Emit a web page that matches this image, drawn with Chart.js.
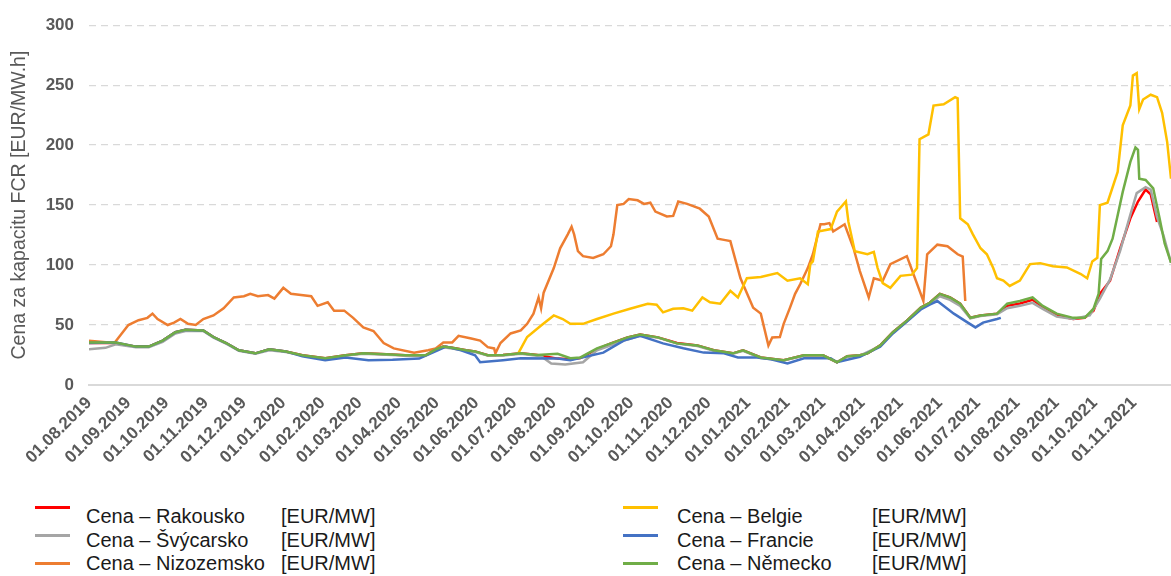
<!DOCTYPE html>
<html>
<head>
<meta charset="utf-8">
<script src="https://cdn.jsdelivr.net/npm/chart.js"></script>
<style>
  body { margin: 0; background: #fff; }
  #wrap { position: relative; width: 1171px; height: 576px; font-family: "Liberation Sans", Arial, sans-serif; }
  #myChart { display: block; }
  .txt { position: absolute; font-size: 20px; line-height: 23px; color: #1a1a1a; white-space: nowrap; }
  .ln { position: absolute; height: 3px; }
</style>
</head>
<body>
<div id="wrap">
  <canvas id="myChart" width="1171" height="474"></canvas>
  <div id="legend"></div>
</div>
<script>
// days counted from 01.08.2019
const tickLabels = ["01.08.2019", "01.09.2019", "01.10.2019", "01.11.2019", "01.12.2019", "01.01.2020",
  "01.02.2020", "01.03.2020", "01.04.2020", "01.05.2020", "01.06.2020", "01.07.2020", "01.08.2020",
  "01.09.2020", "01.10.2020", "01.11.2020", "01.12.2020", "01.01.2021", "01.02.2021", "01.03.2021",
  "01.04.2021", "01.05.2021", "01.06.2021", "01.07.2021", "01.08.2021", "01.09.2021", "01.10.2021",
  "01.11.2021"]

const rakDays = [0,21,37,47,58,68,76,90,98,108,118,131,142,155,168,186,202,216,234,249,265,273,279,286,297,304,314,326,340,353,
  369,379,387,400,411,424,434,448,463,479,492,507,515,529,547,563,578,589,597,607,613,623,633,644,655,662,670,678,686,694,
  702,715,723,733,743,751,762,775,784,791,796,804,812,820,826,832,836,839,841]
const rakVals = [35,35,32,32,37,44,46,45.5,40,35,29,26.4,29.7,28,24.8,22.3,24.8,26.4,25.6,24.8,24.8,29.7,32,31,29,28,24.8,25,26.4,25,
  22,21.5,22.5,30,34.7,39.7,42,39.7,35,33,29,26.4,29,23,20.7,24.8,24.8,19,24,24.8,26.4,33,44,53.7,64.5,68.6,76,73,67.8,56,
  58,59.5,66,68,71,65,58,55,56,62,76,87,114,139,153,163,159,145,136]

const svyDays = [0,13,21,37,47,58,68,76,90,98,108,118,131,142,155,168,186,202,216,234,249,265,273,279,286,297,304,314,326,340,
  356,364,375,389,400,411,424,434,448,463,479,492,507,515,529,547,563,578,589,597,607,623,633,644,655,662,670,678,686,694,
  702,715,723,733,743,751,762,775,788,796,804,812,820,825,832,836,841,846,852]
const svyVals = [29.7,31,34,31.5,31.5,36,43,45,45,39.5,34.5,28.5,26,29,27.5,24.5,22,24.5,26,25.3,24.5,24.5,29,31.5,30.5,28.5,27.5,24.5,24.5,26,
  24,18,17,19,29,33,38,41,39.5,34.5,32.5,28.5,26,28.5,22.5,20.5,24.5,24.5,19,23.5,24.5,32.5,43.5,53,64,68,74,71,66,55.5,
  57.5,59,64,66,68.5,63.5,57,55,58,72,88,112,142,160,165,163,140,125,102]

const nizDays = [0,20,31,39,46,50,54,62,67,72,78,84,90,98,106,114,122,127,133,141,146,153,159,167,175,180,188,193,201,208,
  216,224,232,240,256,267,273,279,286,291,301,308,314,319,320,324,332,340,345,350,354,356,358,366,371,377,380,382,385,389,
  397,405,411,413,416,421,425,432,437,442,446,455,460,464,471,481,488,495,500,505,513,523,529,535,538,544,547,552,556,560,
  566,570,576,579,583,586,595,602,607,614,618,625,631,644,657,660,668,676,684,688,690]
const nizVals = [37,35,50,54,56,59.5,55,50,52,55,51,50,55,58,64,73,74,76,74,75,72,81,76,75,74,66,69,62,62,56,
  48,45,35,30.5,27,29,30.5,35.5,35.5,41,38.8,37,31.6,30.5,26.4,35,43,45.5,51,59.5,73,64,77,97.5,114,125.6,132,125.6,111.6,107.4,
  106,109,115.7,125.6,150,151,155,154,151,152,144.6,140.5,141,153,151,147,140.5,122,121,120,89,64.5,59.5,33,39.7,40,51,64.5,76,84,
  97.5,109,134,134,135,128,134,114,95,73,89,87,100.8,107.4,70,109,117,115.7,109,107,70]

const belDays = [338,345,356,366,373,379,389,400,413,426,440,447,452,460,468,475,483,489,497,505,511,518,529,542,550,560,566,568,570,574,
  584,589,596,598,603,613,618,621,625,631,639,648,652,654,661,665,673,682,684,686,692,696,702,707,712,715,720,725,733,741,
  749,759,770,781,786,790,794,796,802,810,814,820,822,825,827,830,836,841,845,849,852]
const belVals = [26.4,40,49.6,58,55,51,51,55,59.5,63.6,67.8,67,60.6,63.6,64,62,73,69,67.8,78.5,73,89,90,93.4,87,89,84,100.8,103,128,
  130,144.6,153,136,111.6,109,111,97.5,85,81,91,92,97.5,205,209,233,234,240,239,139,134,125.6,114,109,97.5,89,87,82.6,87,100.8,
  101.6,99,98,92.5,89,103,106,150,152,177.7,216.5,233,258,260,230,238,242,240,227,202.5,172]

const fraDays = [0,21,37,47,58,68,76,90,98,108,118,131,142,155,168,186,202,220,239,260,275,281,293,304,308,326,340,369,379,405,
  421,434,452,468,484,500,511,526,537,550,563,584,589,607,623,633,644,655,662,668,681,692,698,704,715,718]
const fraVals = [35,35.5,32,32,37,44,46,45.5,40,35,29,26.4,29.7,28,24,20.7,23,20.7,21,22,29,32,29,24.8,19,20.7,22.3,22,20.7,27,
  37,41,34.7,30.6,27,26.4,23,23,21.5,18,22.3,22.3,19,23.5,32,43,53,63,67,70,59.5,52,48,52,55,56]

const nemDays = [0,21,37,47,58,68,76,90,98,108,118,131,142,155,168,186,202,216,234,249,265,273,279,286,297,304,314,326,340,353,
  369,379,387,400,411,424,434,448,463,479,492,507,515,529,547,563,578,589,597,607,613,623,633,644,655,662,670,678,686,694,
  702,715,723,733,743,751,762,775,784,791,795,797,802,806,814,820,824,826,827,832,838,843,847,852]
const nemVals = [35.5,35.5,32,32,37,44,46,45.5,40,35,29,26.4,29.7,28,24.8,22.3,24.8,26.4,25.6,24.8,24.8,29.7,32,31,29,28,24.8,25,26.4,25,
  26,22.3,23,30.6,34.7,39.7,42,39.7,34.7,33,29,26.4,29,23,20.7,24.8,24.8,19,24,24.8,26.4,33,44,53.7,64.5,68.6,76,73,67.8,56,
  58,59.5,67.8,70,73,66,59.5,56,56,63.6,76,105,111.6,122,161,186,198,196,172,171,164,139,118,102]

const names = ["Cena – Rakousko", "Cena – Švýcarsko", "Cena – Nizozemsko", "Cena – Belgie", "Cena – Francie", "Cena – Německo"]
const unit = "[EUR/MW]"
const allDays = [rakDays, svyDays, nizDays, belDays, fraDays, nemDays]
const allVals = [rakVals, svyVals, nizVals, belVals, fraVals, nemVals]
const colors = ["#ff0000", "#a5a5a5", "#ed7d31", "#ffc000", "#4472c4", "#70ad47"]

const start = Date.UTC(2019, 7, 1)
const tickDays = tickLabels.map(function (t) {
  const p = t.split(".")
  return (Date.UTC(+p[2], +p[1] - 1, +p[0]) - start) / 864e5
})

const datasets = names.map(function (n, i) {
  return {
    label: n,
    data: allDays[i].map(function (d, j) { return { x: d, y: allVals[i][j] } }),
    borderColor: colors[i],
    borderWidth: 2.5,
    pointRadius: 0,
    fill: false,
    order: 6 - i
  }
})

const axisColor = "#595959"
const font = "'Liberation Sans', Arial, sans-serif"

new Chart(document.getElementById("myChart"), {
  type: "line",
  data: { datasets: datasets },
  options: {
    responsive: false,
    animation: false,
    layout: { padding: { top: 22, right: 0, bottom: 0, left: 0 } },
    plugins: { legend: { display: false }, tooltip: { enabled: false } },
    scales: {
      x: {
        type: "linear",
        min: 0,
        max: 852,
        afterBuildTicks: function (s) { s.ticks = tickDays.map(function (v) { return { value: v } }) },
        afterFit: function (s) { s.height = 89 },
        ticks: {
          autoSkip: false,
          minRotation: 45,
          maxRotation: 45,
          padding: 8,
          color: axisColor,
          font: { family: font, size: 17, weight: "bold" },
          callback: function (v, i) { return tickLabels[i] }
        },
        grid: { display: false, drawTicks: false },
        border: { display: true, color: "#d9d9d9", width: 2 }
      },
      y: {
        min: 0,
        max: 300,
        afterFit: function (s) { s.width = 89 },
        ticks: { stepSize: 50, padding: 15, color: axisColor, font: { family: font, size: 17, weight: "bold" } },
        grid: { color: "#d9d9d9", lineWidth: 1.3, drawTicks: false },
        border: {
          display: false,
          dash: function (ctx) { return ctx.tick && ctx.tick.value === 0 ? [] : [7, 5] }
        },
        title: {
          display: true,
          text: "Cena za kapacitu FCR [EUR/MW.h]",
          color: axisColor,
          font: { family: font, size: 19.5 },
          padding: { top: 8, bottom: 0 }
        }
      }
    }
  }
})

// legend in two columns, built from the series arrays
const legend = document.getElementById("legend")
const colX = [{ line: 35, text: 86, unit: 281 }, { line: 623, text: 677, unit: 872 }]
const lineY = [506, 534, 562]
const textTop = [505, 529, 552]
names.forEach(function (n, i) {
  const c = colX[Math.floor(i / 3)]
  const r = i % 3
  const ln = document.createElement("div")
  ln.className = "ln"
  ln.style.left = c.line + "px"
  ln.style.width = "35px"
  ln.style.top = lineY[r] + "px"
  ln.style.background = colors[i]
  legend.appendChild(ln)
  const t = document.createElement("div")
  t.className = "txt"
  t.style.left = c.text + "px"
  t.style.top = textTop[r] + "px"
  t.textContent = n
  legend.appendChild(t)
  const u = document.createElement("div")
  u.className = "txt"
  u.style.left = c.unit + "px"
  u.style.top = textTop[r] + "px"
  u.textContent = unit
  legend.appendChild(u)
})
</script>
</body>
</html>
